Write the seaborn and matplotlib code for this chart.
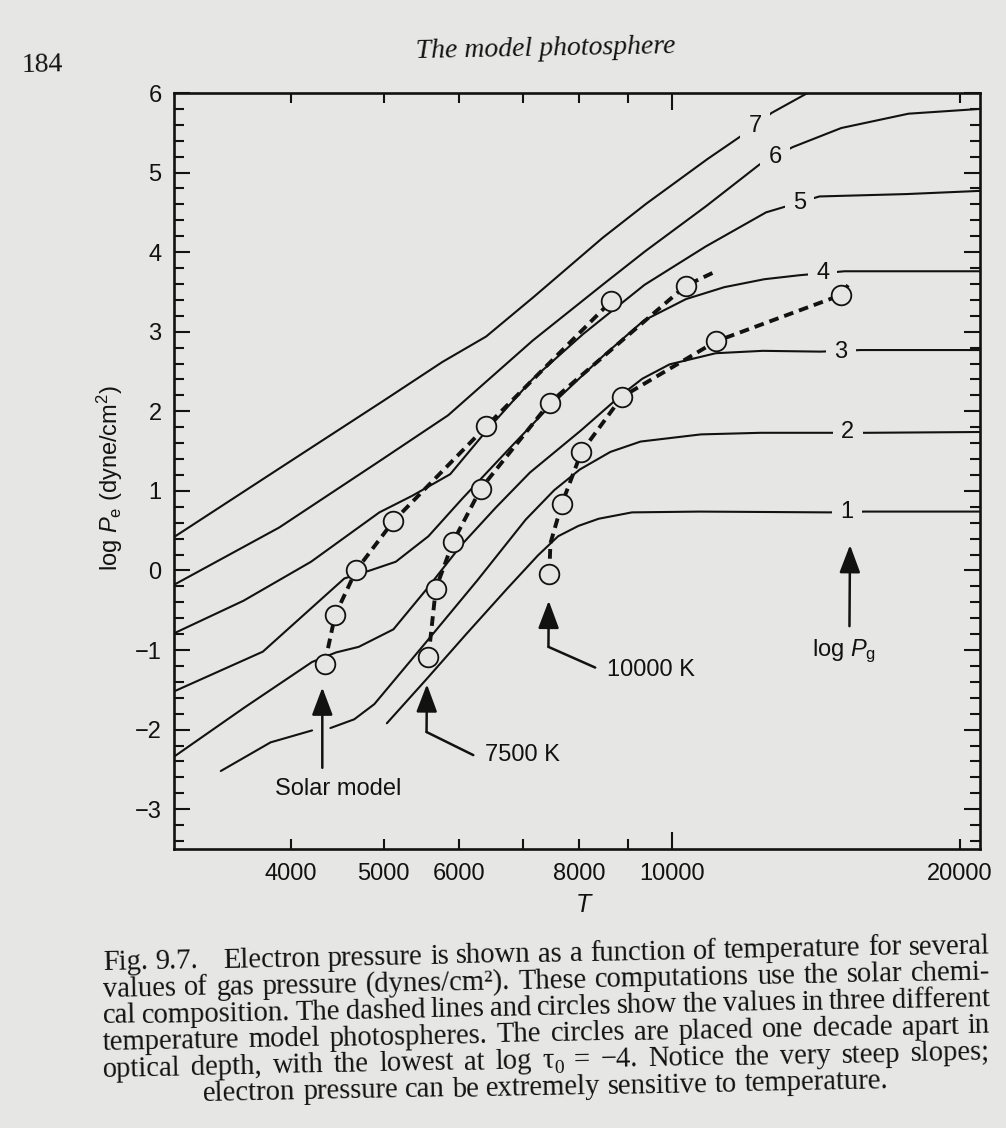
import numpy as np
import pandas as pd
import matplotlib
matplotlib.use("Agg")
import matplotlib.pyplot as plt
import seaborn as sns
from matplotlib.ticker import MultipleLocator

# ---------------- values ----------------
# curves of constant log Pg : temperature T (K) and log Pe
T_pg7 = [3020, 3900, 5010, 5760, 6400, 7180, 8470, 9410, 10900, 12020, 12720, 13870]
P_pg7 = [0.42, 1.29, 2.14, 2.62, 2.94, 3.44, 4.18, 4.61, 5.17, 5.52, 5.75, 6.00]

T_pg6 = [3020, 3890, 4960, 5840, 7160, 8510, 9380, 10870, 12350, 13380, 15040, 17680, 21000]
P_pg6 = [-0.18, 0.54, 1.38, 1.95, 2.89, 3.61, 4.01, 4.58, 5.10, 5.32, 5.56, 5.74, 5.80]

T_pg5 = [3020, 3570, 4200, 4950, 5360, 5870, 6430, 7150, 8080, 9370, 10850, 12550, 14270, 17600, 21000]
P_pg5 = [-0.79, -0.38, 0.11, 0.73, 0.94, 1.21, 1.78, 2.40, 2.97, 3.59, 4.07, 4.50, 4.70, 4.73, 4.77]

T_pg4 = [3020, 3740, 4550, 4840, 5150, 5570, 6040, 6790, 7440, 8470, 9350, 10350, 11350, 12500, 13600, 15160, 21000]
P_pg4 = [-1.52, -1.02, -0.10, 0.00, 0.11, 0.43, 0.90, 1.55, 2.05, 2.69, 3.14, 3.41, 3.56, 3.66, 3.71, 3.76, 3.76]

T_pg3 = [3020, 3580, 4210, 4460, 4710, 5120, 5550, 6030, 6550, 7110, 8040, 8870, 9320, 9950, 11120, 12450, 14310, 15770, 21000]
P_pg3 = [-2.34, -1.72, -1.15, -1.03, -0.96, -0.74, -0.23, 0.32, 0.79, 1.23, 1.76, 2.21, 2.41, 2.59, 2.73, 2.76, 2.75, 2.77, 2.77]

# curve 2 is interrupted where the solar-model arrow passes
T_pg2a = [3380, 3810, 4210]
P_pg2a = [-2.52, -2.16, -2.01]
T_pg2b = [4400, 4660, 4890, 5540, 6270, 7040, 7540, 8020, 8630, 9280, 10730, 12390, 14590, 15990, 21000]
P_pg2b = [-1.98, -1.87, -1.68, -0.90, -0.12, 0.64, 1.01, 1.27, 1.49, 1.62, 1.71, 1.73, 1.73, 1.73, 1.74]

T_pg1 = [5040, 5550, 6100, 6730, 7250, 7610, 7990, 8390, 9090, 10680, 14600, 15920, 21000]
P_pg1 = [-1.92, -1.36, -0.80, -0.23, 0.19, 0.43, 0.56, 0.65, 0.73, 0.74, 0.73, 0.74, 0.74]

# model photospheres: circles (one decade apart in optical depth)
solar_T = [4340, 4450, 4680, 5120, 6400, 8640]
solar_P = [-1.17, -0.56, 0.00, 0.62, 1.81, 3.38]
m7500_T = [5570, 5670, 5910, 6320, 7460, 10350]
m7500_P = [-1.09, -0.23, 0.36, 1.03, 2.11, 3.58]
m10000_T = [7450, 7680, 8050, 8870, 11130, 15020]
m10000_P = [-0.05, 0.84, 1.49, 2.18, 2.88, 3.46]

# dashed model tracks (through the circles, plus read-off extra points)
dash_solar_T = [4340, 4450, 4680, 5120, 6400, 8640]
dash_solar_P = [-1.17, -0.56, 0.00, 0.62, 1.81, 3.38]
dash_7500_T = [5570, 5670, 5910, 6320, 7460, 10350, 11040]
dash_7500_P = [-1.09, -0.23, 0.36, 1.03, 2.11, 3.58, 3.74]
dash_10000_T = [7450, 7470, 7680, 8050, 8870, 11130, 15020, 15340]
dash_10000_P = [-0.05, 0.34, 0.84, 1.49, 2.18, 2.88, 3.46, 3.61]

# curve labels (log Pg)
label_text = ['7', '6', '5', '4', '3', '2', '1']
label_T = [12220, 12830, 13600, 14380, 15020, 15280, 15240]
label_P = [5.58, 5.20, 4.62, 3.74, 2.75, 1.74, 0.73]

# axis ticks
x_major = [10000]
x_major_labels = ['10000']
x_minor = [4000, 5000, 6000, 7000, 8000, 9000, 20000]
x_minor_labels = ['4000', '5000', '6000', '', '8000', '', '20000']
y_ticks = [-3, -2, -1, 0, 1, 2, 3, 4, 5, 6]
y_labels = ['\u22123', '\u22122', '\u22121', '0', '1', '2', '3', '4', '5', '6']

caption_l1_head = 'Fig. 9.7.'
caption_lines = [
    'Electron pressure is shown as a function of temperature for several',
    'values of gas pressure (dynes/cm\u00b2). These computations use the solar chemi-',
    'cal composition. The dashed lines and circles show the values in three different',
    'temperature model photospheres. The circles are placed one decade apart in',
    'optical depth, with the lowest at log \u03c4\u2080 = \u22124. Notice the very steep slopes;',
    'electron pressure can be extremely sensitive to temperature.',
]

# ---------------- style ----------------
PAPER = '#e6e6e4'
INK = '#121212'
W, H = 1006, 1128

sns.set_theme(style='ticks')
plt.rcParams['font.family'] = ['Liberation Sans', 'DejaVu Sans']
plt.rcParams['mathtext.fontset'] = 'custom'
plt.rcParams['mathtext.rm'] = 'Liberation Sans'
plt.rcParams['mathtext.it'] = 'Liberation Sans:italic'
plt.rcParams['text.color'] = INK
plt.rcParams['axes.edgecolor'] = INK
plt.rcParams['xtick.color'] = INK
plt.rcParams['ytick.color'] = INK

fig = plt.figure(figsize=(W / 100, H / 100), dpi=100, facecolor=PAPER)
ax = fig.add_axes([174 / W, 1 - 849 / H, 806 / W, 756 / H])
ax.set_facecolor(PAPER)

# ---------------- solid curves ----------------
segs = [('7', T_pg7, P_pg7), ('6', T_pg6, P_pg6), ('5', T_pg5, P_pg5),
        ('4', T_pg4, P_pg4), ('3', T_pg3, P_pg3), ('2a', T_pg2a, P_pg2a),
        ('2b', T_pg2b, P_pg2b), ('1', T_pg1, P_pg1)]
df_curves = pd.concat([pd.DataFrame({'T': t, 'logPe': p, 'seg': s}) for s, t, p in segs],
                      ignore_index=True)
sns.lineplot(data=df_curves, x='T', y='logPe', units='seg', estimator=None, sort=False,
             color=INK, lw=1.5, ax=ax, legend=False, zorder=2)
for ln in ax.lines:
    ln.set_solid_joinstyle('round')

# ---------------- dashed model tracks ----------------
dsegs = [('solar', dash_solar_T, dash_solar_P), ('7500', dash_7500_T, dash_7500_P),
         ('10000', dash_10000_T, dash_10000_P)]
df_dash = pd.concat([pd.DataFrame({'T': t, 'logPe': p, 'model': s}) for s, t, p in dsegs],
                    ignore_index=True)
n0 = len(ax.lines)
sns.lineplot(data=df_dash, x='T', y='logPe', units='model', estimator=None, sort=False,
             color=INK, lw=2.8, ax=ax, legend=False, zorder=3)
for ln in ax.lines[n0:]:
    ln.set_dashes([2.5, 1.55])
    ln.set_dash_capstyle('butt')

# ---------------- circles ----------------
df_circ = pd.concat([pd.DataFrame({'T': solar_T, 'logPe': solar_P}),
                     pd.DataFrame({'T': m7500_T, 'logPe': m7500_P}),
                     pd.DataFrame({'T': m10000_T, 'logPe': m10000_P})], ignore_index=True)
sns.scatterplot(data=df_circ, x='T', y='logPe', s=200, color=PAPER, edgecolor=INK,
                linewidth=1.3, zorder=5, ax=ax, legend=False)

# ---------------- curve labels ----------------
for txt, t, p in zip(label_text, label_T, label_P):
    ax.text(t, p, txt, fontsize=17, ha='center', va='center', zorder=4,
            bbox=dict(boxstyle='square,pad=0.35', fc=PAPER, ec='none'))

# ---------------- arrows & annotations ----------------
def arrow(tip, corner, end=None):
    ax.annotate('', xy=tip, xytext=corner, zorder=6,
                arrowprops=dict(arrowstyle='-|>,head_length=0.85,head_width=0.32',
                                mutation_scale=20, lw=1.8, color=INK,
                                shrinkA=0, shrinkB=0))
    if end is not None:
        ax.plot([corner[0], end[0]], [corner[1], end[1]], color=INK, lw=1.8,
                solid_capstyle='round', zorder=6)

arrow((4315, -1.47), (4315, -2.48))
ax.text(4480, -2.75, 'Solar model', fontsize=17, ha='center', va='center')
arrow((5550, -1.43), (5545, -2.03), (6205, -2.32))
ax.text(6390, -2.32, '7500 K', fontsize=17, ha='left', va='center')
arrow((7440, -0.38), (7435, -0.96), (8320, -1.22))
ax.text(8560, -1.25, '10000 K', fontsize=17, ha='left', va='center')
arrow((15360, 0.32), (15340, -0.70))
ax.text(15130, -1.01, r'log $P_{\mathrm{g}}$', fontsize=17, ha='center', va='center')

# ---------------- axes ----------------
ax.set_xscale('log')
ax.set_xlim(3020, 21000)
ax.set_ylim(-3.5, 6.0)
ax.set_xticks(x_major, x_major_labels)
ax.set_xticks(x_minor, x_minor_labels, minor=True)
ax.set_yticks(y_ticks, y_labels)
ax.yaxis.set_minor_locator(MultipleLocator(0.2))
ax.tick_params(which='both', direction='in', top=True, right=True, width=1.5,
               labelsize=17, colors=INK)
ax.tick_params(axis='x', which='major', length=12, pad=10)
ax.tick_params(axis='x', which='minor', length=7.5, pad=10)
ax.tick_params(axis='y', which='major', length=11.5, pad=9)
ax.tick_params(axis='y', which='minor', length=7, pad=9)
for sp in ax.spines.values():
    sp.set_linewidth(1.9)
    sp.set_color(INK)
ax.set_xlabel('')
ax.set_ylabel('')

fig.text(583 / W, 1 - 905 / H, 'T', fontsize=18, style='italic', ha='center', va='center')
fig.text(110 / W, 1 - 478 / H, r'log $P_{\mathrm{e}}$ (dyne/cm$^2$)', fontsize=17,
         rotation=90, ha='center', va='center')

# ---------------- page header & caption (slightly tilted like the scan) ----------------
SERIF = 'Liberation Serif'
CFS = 20.6
theta_deg = 1.1
th = np.deg2rad(theta_deg)
fig.canvas.draw()
rend = fig.canvas.get_renderer()

def measure(s, fs, style='normal'):
    t = fig.text(0, 0, s, fontsize=fs, family=SERIF, style=style)
    w = t.get_window_extent(rend).width
    t.remove()
    return w

def put(s, x, y, fs, style='normal'):
    fig.text(x / W, 1 - y / H, s, fontsize=fs, family=SERIF, style=style,
             rotation=theta_deg, rotation_mode='anchor', ha='left', va='baseline')

def word_parts(w):
    if '\u2080' in w:
        base = w.replace('\u2080', '')
        return [(base, 1.0, 0.0), ('0', 0.68, 5.0)]
    return [(w, 1.0, 0.0)]

def place_words(words, x0, y0, x1=None, fs=CFS):
    parts = [word_parts(w) for w in words]
    widths = [sum(measure(s, fs * sc) for s, sc, _ in p) for p in parts]
    space = measure('a a', fs) - measure('aa', fs)
    if x1 is None or len(words) == 1:
        gap = space
    else:
        gap = ((x1 - x0) / np.cos(th) - sum(widths)) / (len(words) - 1)
    d = 0.0
    for p, wd in zip(parts, widths):
        dd = d
        for s, sc, dy in p:
            x = x0 + dd * np.cos(th) + dy * np.sin(th)
            y = y0 - dd * np.sin(th) + dy * np.cos(th)
            put(s, x, y, fs * sc)
            dd += measure(s, fs * sc)
        d += wd + gap
    return d

def base_at(y_left, x):
    return y_left - (x - 103) * np.tan(th)

X0, X1 = 103, 990
baselines = [970, 996.7, 1023.3, 1050, 1076.7, 1103.3]
place_words(caption_l1_head.split(), X0, baselines[0])
place_words(caption_lines[0].split(), 223, base_at(baselines[0], 223), X1)
for i in range(1, 5):
    place_words(caption_lines[i].split(), X0, baselines[i], X1)
last = caption_lines[5].split()
space = measure('a a', CFS) - measure('aa', CFS)
wlast = sum(measure(w, CFS) for w in last) + space * (len(last) - 1)
xs = 546 - wlast / 2
place_words(last, xs, base_at(baselines[5], xs))

# header
put('184', 22, base_at(53, 22) + 17, 20)
wt = measure('The model photosphere', 20, 'italic')
xt = 546 - wt / 2
put('The model photosphere', xt, 53 + (wt / 2) * np.tan(th) + 3, 20, 'italic')

fig.savefig('out.png', dpi=100, facecolor=PAPER)
